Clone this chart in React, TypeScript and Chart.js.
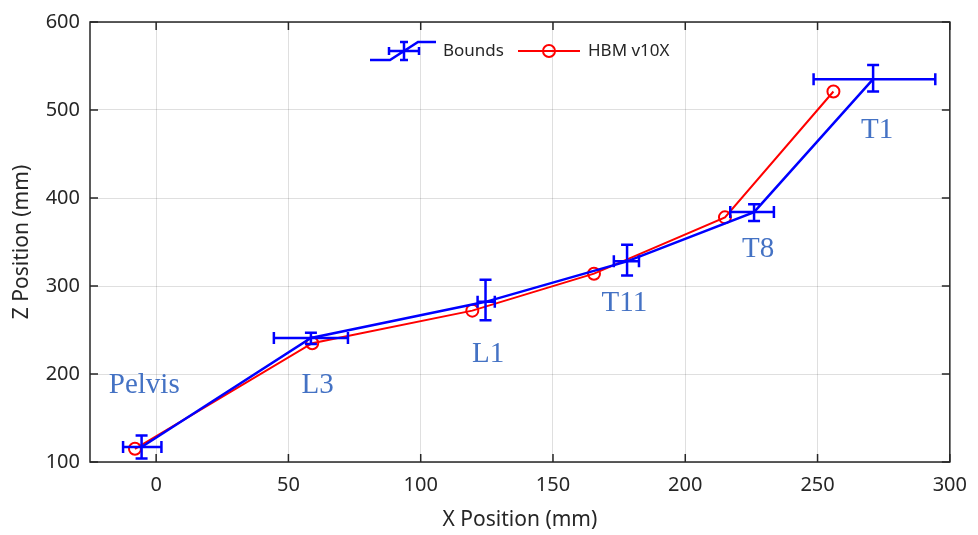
import React, { useEffect, useRef } from 'react';
import { Chart, registerables } from 'chart.js';

Chart.register(...registerables);

// ---- data ----
const vertebrae = ['Pelvis', 'L3', 'L1', 'T11', 'T8', 'T1'];
const boundsX = [-5.5, 58.5, 124.5, 178, 226, 271];
const boundsZ = [117, 241, 282, 328, 384, 535];
const boundsXMin = [-12.5, 44.5, 121.5, 173, 217, 248.5];
const boundsXMax = [2, 72.5, 128, 182.5, 233.5, 294.5];
const boundsZMin = [104, 234, 261, 312, 374, 521];
const boundsZMax = [130, 247, 307, 347, 393, 551];
const hbmX = [-8, 59, 119.5, 165.5, 215, 256];
const hbmZ = [115, 235, 272, 314, 378, 521];
const labelX = [-4.5, 61, 125.5, 177, 227.5, 272.5];
const labelZ = [187, 187, 222, 280, 341.5, 476.5];
const xTicks = [0, 50, 100, 150, 200, 250, 300];
const zTicks = [100, 200, 300, 400, 500, 600];
const seriesNames = ['Bounds', 'HBM v10X'];

const AXIS = '#262626';
const GRID = 'rgba(38,38,38,0.15)';
const BLUE = '#0000ff';
const RED = '#ff0000';
const LABEL = '#4472c4';
const SANS = '"Noto Sans", "Open Sans", sans-serif';

const errorBarPlugin = {
  id: 'errorBars',
  afterDatasetDraw(chart: any, args: any) {
    if (args.index !== 0) return;
    const { ctx } = chart;
    const xs = chart.scales.x;
    const ys = chart.scales.y;
    const cap = 6;
    ctx.save();
    ctx.strokeStyle = BLUE;
    ctx.lineWidth = 2.5;
    for (let i = 0; i < boundsX.length; i++) {
      const cx = xs.getPixelForValue(boundsX[i]);
      const cy = ys.getPixelForValue(boundsZ[i]);
      const x0 = xs.getPixelForValue(boundsXMin[i]);
      const x1 = xs.getPixelForValue(boundsXMax[i]);
      const y0 = ys.getPixelForValue(boundsZMin[i]);
      const y1 = ys.getPixelForValue(boundsZMax[i]);
      ctx.beginPath();
      ctx.moveTo(cx, y0); ctx.lineTo(cx, y1);
      ctx.moveTo(cx - cap, y0); ctx.lineTo(cx + cap, y0);
      ctx.moveTo(cx - cap, y1); ctx.lineTo(cx + cap, y1);
      ctx.moveTo(x0, cy); ctx.lineTo(x1, cy);
      ctx.moveTo(x0, cy - cap); ctx.lineTo(x0, cy + cap);
      ctx.moveTo(x1, cy - cap); ctx.lineTo(x1, cy + cap);
      ctx.stroke();
    }
    ctx.restore();
  },
};

const framePlugin = {
  id: 'frame',
  afterDatasetsDraw(chart: any) {
    const { ctx, chartArea: a } = chart;
    const xs = chart.scales.x;
    const ys = chart.scales.y;
    ctx.save();
    // annotations
    ctx.fillStyle = LABEL;
    ctx.font = '29px "Liberation Serif", "Times New Roman", serif';
    ctx.textAlign = 'center';
    ctx.textBaseline = 'middle';
    for (let i = 0; i < vertebrae.length; i++) {
      ctx.fillText(vertebrae[i], xs.getPixelForValue(labelX[i]), ys.getPixelForValue(labelZ[i]));
    }
    // frame
    ctx.strokeStyle = AXIS;
    ctx.lineWidth = 1.5;
    ctx.strokeRect(a.left, a.top, a.right - a.left, a.bottom - a.top);
    const t = 8;
    ctx.beginPath();
    for (const v of xTicks) {
      const px = xs.getPixelForValue(v);
      ctx.moveTo(px, a.bottom); ctx.lineTo(px, a.bottom - t);
      ctx.moveTo(px, a.top); ctx.lineTo(px, a.top + t);
    }
    for (const v of zTicks) {
      const py = ys.getPixelForValue(v);
      ctx.moveTo(a.left, py); ctx.lineTo(a.left + t, py);
      ctx.moveTo(a.right, py); ctx.lineTo(a.right - t, py);
    }
    ctx.stroke();

    // legend
    ctx.font = `17px ${SANS}`;
    ctx.fillStyle = AXIS;
    ctx.textAlign = 'left';
    ctx.textBaseline = 'middle';
    const ly = 51;
    // Bounds icon
    ctx.strokeStyle = BLUE;
    ctx.lineWidth = 2.5;
    ctx.beginPath();
    ctx.moveTo(370, 60); ctx.lineTo(390, 60); ctx.lineTo(418, 42); ctx.lineTo(436, 42);
    ctx.moveTo(404, 42); ctx.lineTo(404, 60);
    ctx.moveTo(400, 42); ctx.lineTo(408, 42);
    ctx.moveTo(400, 60); ctx.lineTo(408, 60);
    ctx.moveTo(389, 51); ctx.lineTo(419, 51);
    ctx.moveTo(389, 47); ctx.lineTo(389, 55);
    ctx.moveTo(419, 47); ctx.lineTo(419, 55);
    ctx.stroke();
    ctx.fillText(seriesNames[0], 443, ly);
    // HBM icon
    ctx.strokeStyle = RED;
    ctx.lineWidth = 2;
    ctx.beginPath();
    ctx.moveTo(518, ly); ctx.lineTo(580, ly);
    ctx.stroke();
    ctx.beginPath();
    ctx.arc(549, ly, 6, 0, Math.PI * 2);
    ctx.stroke();
    ctx.fillText(seriesNames[1], 588, ly);
    ctx.restore();
  },
};

export default function App() {
  const ref = useRef<HTMLCanvasElement>(null);
  useEffect(() => {
    document.body.style.margin = '0';
    const chart = new Chart(ref.current as HTMLCanvasElement, {
      type: 'scatter',
      data: {
        datasets: [
          {
            label: seriesNames[0],
            data: boundsX.map((x, i) => ({ x, y: boundsZ[i] })),
            showLine: true,
            borderColor: BLUE,
            borderWidth: 2.5,
            pointRadius: 0,
            pointHoverRadius: 0,
          },
          {
            label: seriesNames[1],
            data: hbmX.map((x, i) => ({ x, y: hbmZ[i] })),
            showLine: true,
            borderColor: RED,
            borderWidth: 2,
            pointStyle: 'circle',
            pointRadius: 6,
            pointBorderWidth: 2,
            pointBorderColor: RED,
            pointBackgroundColor: 'rgba(0,0,0,0)',
          },
        ],
      },
      options: {
        responsive: false,
        animation: false,
        events: [],
        layout: { padding: { top: 18, right: 24, left: 0, bottom: 0 } },
        plugins: { legend: { display: false }, tooltip: { enabled: false } },
        scales: {
          x: {
            type: 'linear',
            min: -25,
            max: 300,
            afterBuildTicks: (s: any) => { s.ticks = xTicks.map((v) => ({ value: v })); },
            afterFit: (s: any) => { s.height = 73; },
            ticks: { color: AXIS, font: { family: SANS, size: 20 }, padding: 11, maxRotation: 0, autoSkip: false },
            grid: { color: GRID, drawTicks: false, lineWidth: 1 },
            border: { display: false },
            title: { display: true, text: 'X Position (mm)', color: AXIS, font: { family: SANS, size: 21 }, padding: { top: 0, bottom: 2 } },
          },
          y: {
            type: 'linear',
            min: 100,
            max: 600,
            afterBuildTicks: (s: any) => { s.ticks = zTicks.map((v) => ({ value: v })); },
            afterFit: (s: any) => { s.width = 90; },
            ticks: { color: AXIS, font: { family: SANS, size: 20 }, padding: 10, autoSkip: false },
            grid: { color: GRID, drawTicks: false, lineWidth: 1 },
            border: { display: false },
            title: { display: true, text: 'Z Position (mm)', color: AXIS, font: { family: SANS, size: 21 }, padding: { top: 9, bottom: 0 } },
          },
        },
      },
      plugins: [errorBarPlugin, framePlugin],
    });
    return () => chart.destroy();
  }, []);
  return (
    <div style={{ width: 978, height: 535 }}>
      <canvas ref={ref} width={978} height={535} style={{ display: 'block' }} />
    </div>
  );
}
